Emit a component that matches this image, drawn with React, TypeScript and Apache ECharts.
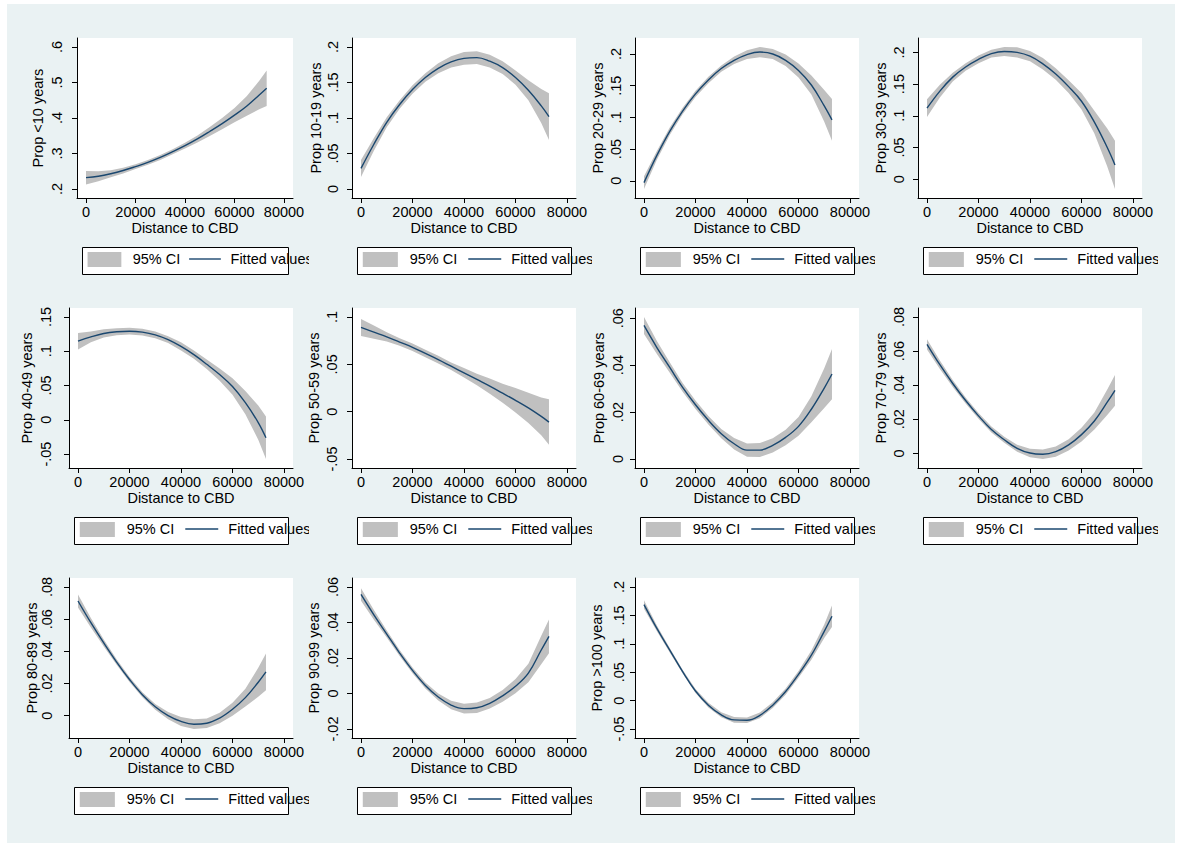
import React, { useEffect, useRef } from 'react';
import * as echarts from 'echarts';

// Distance to CBD at which the curves were read
const X = [0, 5000, 10000, 15000, 20000, 25000, 30000, 35000, 40000, 45000, 50000, 55000, 60000, 65000, 70000, 73000];
const xTicks = [0, 20000, 40000, 60000, 80000];

const titles = [
  'Prop <10 years', 'Prop 10-19 years', 'Prop 20-29 years', 'Prop 30-39 years',
  'Prop 40-49 years', 'Prop 50-59 years', 'Prop 60-69 years', 'Prop 70-79 years',
  'Prop 80-89 years', 'Prop 90-99 years', 'Prop >100 years',
];

// fitted values and 95% CI half-widths
const fit1 = [0.232, 0.236, 0.243, 0.252, 0.263, 0.275, 0.289, 0.305, 0.322, 0.341, 0.362, 0.384, 0.408, 0.434, 0.465, 0.484];
const ci1 = [0.019, 0.014, 0.01, 0.008, 0.007, 0.007, 0.007, 0.007, 0.008, 0.01, 0.013, 0.016, 0.02, 0.028, 0.04, 0.05];
const ticks1 = [0.2, 0.3, 0.4, 0.5, 0.6];

const fit2 = [0.029, 0.063, 0.094, 0.119, 0.14, 0.157, 0.17, 0.179, 0.184, 0.185, 0.18, 0.171, 0.157, 0.139, 0.117, 0.102];
const ci2 = [0.012, 0.009, 0.007, 0.006, 0.006, 0.006, 0.007, 0.008, 0.009, 0.009, 0.009, 0.009, 0.01, 0.014, 0.024, 0.033];
const ticks2 = [0, 0.05, 0.1, 0.15, 0.2];

const fit3 = [-0.003, 0.04, 0.078, 0.11, 0.137, 0.159, 0.177, 0.19, 0.199, 0.203, 0.2, 0.19, 0.174, 0.151, 0.118, 0.096];
const ci3 = [0.01, 0.007, 0.006, 0.005, 0.005, 0.005, 0.005, 0.006, 0.007, 0.008, 0.008, 0.009, 0.011, 0.015, 0.025, 0.033];
const ticks3 = [0, 0.05, 0.1, 0.15, 0.2];

const fit4 = [0.112, 0.139, 0.161, 0.177, 0.189, 0.198, 0.2015, 0.2, 0.194, 0.182, 0.166, 0.146, 0.123, 0.09, 0.05, 0.0226];
const ci4 = [0.014, 0.01, 0.007, 0.006, 0.006, 0.006, 0.007, 0.008, 0.008, 0.009, 0.009, 0.01, 0.013, 0.018, 0.03, 0.038];
const ticks4 = [0, 0.05, 0.1, 0.15, 0.2];

const fit5 = [0.1147, 0.121, 0.126, 0.1285, 0.1293, 0.128, 0.124, 0.117, 0.107, 0.095, 0.081, 0.066, 0.0486, 0.025, -0.004, -0.0262];
const ci5 = [0.012, 0.008, 0.006, 0.005, 0.005, 0.005, 0.005, 0.005, 0.006, 0.006, 0.007, 0.009, 0.012, 0.017, 0.025, 0.031];
const ticks5 = [-0.05, 0, 0.05, 0.1, 0.15];

const fit6 = [0.089, 0.084, 0.079, 0.0735, 0.068, 0.0615, 0.055, 0.048, 0.041, 0.034, 0.027, 0.0195, 0.012, 0.004, -0.005, -0.011];
const ci6 = [0.009, 0.007, 0.005, 0.004, 0.004, 0.004, 0.004, 0.004, 0.005, 0.006, 0.008, 0.01, 0.013, 0.016, 0.02, 0.024];
const ticks6 = [-0.05, 0, 0.05, 0.1];

const fit7 = [0.0569, 0.0475, 0.039, 0.0305, 0.0231, 0.0165, 0.0108, 0.0065, 0.0038, 0.0038, 0.0058, 0.0092, 0.0139, 0.0212, 0.0302, 0.0362];
const ci7 = [0.0036, 0.0028, 0.0022, 0.0019, 0.0018, 0.0018, 0.002, 0.0024, 0.0028, 0.003, 0.003, 0.0033, 0.004, 0.0055, 0.0085, 0.0107];
const ticks7 = [0, 0.02, 0.04, 0.06];

const fit8 = [0.064, 0.052, 0.041, 0.031, 0.022, 0.014, 0.008, 0.003, 0.0002, -0.0005, 0.001, 0.005, 0.011, 0.019, 0.03, 0.037];
const ci8 = [0.003, 0.0025, 0.002, 0.0018, 0.0017, 0.0017, 0.0018, 0.002, 0.0025, 0.0028, 0.003, 0.0033, 0.004, 0.005, 0.0075, 0.009];
const ticks8 = [0, 0.02, 0.04, 0.06, 0.08];

const fit9 = [0.0713, 0.0578, 0.0452, 0.0333, 0.0225, 0.013, 0.0055, 0.0, -0.0036, -0.0053, -0.0047, -0.0015, 0.004, 0.0112, 0.0208, 0.0272];
const ci9 = [0.004, 0.003, 0.0022, 0.0017, 0.0015, 0.0016, 0.0018, 0.0022, 0.0028, 0.003, 0.003, 0.0033, 0.004, 0.0055, 0.009, 0.0114];
const ticks9 = [0, 0.02, 0.04, 0.06, 0.08];

const fit10 = [0.0558, 0.0443, 0.0335, 0.0228, 0.013, 0.0045, -0.002, -0.0065, -0.0085, -0.008, -0.0055, -0.0013, 0.0041, 0.0115, 0.0245, 0.0322];
const ci10 = [0.0035, 0.0027, 0.002, 0.0017, 0.0016, 0.0017, 0.002, 0.0024, 0.0027, 0.003, 0.003, 0.0033, 0.004, 0.0052, 0.008, 0.0095];
const ticks10 = [-0.02, 0, 0.02, 0.04, 0.06];

const fit11 = [0.169, 0.127, 0.0888, 0.051, 0.0169, -0.008, -0.025, -0.034, -0.0346, -0.026, -0.008, 0.016, 0.0462, 0.08, 0.122, 0.1486];
const ci11 = [0.0075, 0.005, 0.004, 0.0035, 0.0035, 0.004, 0.0045, 0.005, 0.005, 0.005, 0.005, 0.0055, 0.006, 0.008, 0.012, 0.019];
const ticks11 = [-0.05, 0, 0.05, 0.1, 0.15, 0.2];

// layout per panel: y label distance and y title distance from the axis (px)
const labelDist = [21, 20, 20, 20, 24, 21, 18, 20, 23, 20, 17];
const titleDist = [39.5, 36.5, 37.5, 37.5, 43, 38.5, 36.5, 37.5, 37.5, 38.5, 38.5];

const panels = [
  { fit: fit1, ci: ci1, ticks: ticks1 },
  { fit: fit2, ci: ci2, ticks: ticks2 },
  { fit: fit3, ci: ci3, ticks: ticks3 },
  { fit: fit4, ci: ci4, ticks: ticks4 },
  { fit: fit5, ci: ci5, ticks: ticks5 },
  { fit: fit6, ci: ci6, ticks: ticks6 },
  { fit: fit7, ci: ci7, ticks: ticks7 },
  { fit: fit8, ci: ci8, ticks: ticks8 },
  { fit: fit9, ci: ci9, ticks: ticks9 },
  { fit: fit10, ci: ci10, ticks: ticks10 },
  { fit: fit11, ci: ci11, ticks: ticks11 },
].map((p, i) => ({
  ...p,
  title: titles[i],
  lo: p.fit.map((v, j) => v - p.ci[j]),
  hi: p.fit.map((v, j) => v + p.ci[j]),
}));

const FONT = "'Liberation Sans', Arial, Helvetica, sans-serif";
const BG = '#EAF2F3';
const CI_COLOR = '#C0C0C0';
const LINE_COLOR = '#1A476F';

const PITCH_X = 283;
const PITCH_Y = 270;
const CELL_W = 293;
const CELL_H = 270;
const EXTRA_L = 10;

function fmt(v: number): string {
  const s = String(parseFloat(v.toFixed(4)));
  return s.replace(/^(-?)0\./, '$1.');
}

function buildOption(p: any, idx: number) {
  const first = idx === 0;
  const gl = (first ? 51 : 43) + EXTRA_L;
  const gw = first ? 216 : 224;
  const gt = 19;
  const gh = 160;
  const pad = 9;
  const xmin0 = 0, xmax0 = 80000;
  const xp = (pad / (gw - 2 * pad)) * (xmax0 - xmin0);
  const dmin = Math.min(...p.lo, p.ticks[0]);
  const dmax = Math.max(...p.hi, p.ticks[p.ticks.length - 1]);
  const yp = (pad / (gh - 2 * pad)) * (dmax - dmin);

  const boxW = gw - 10;
  const boxX = gl + 5;
  const boxY = gt + gh + 49;
  const boxH = 27;
  const midY = boxY + 12;

  const fitted = X.map((x, i) => [x, p.fit[i]]);
  const bandData = X.map((x, i) => [x, p.lo[i], p.hi[i]]);

  const txt = { fontFamily: FONT, fontSize: 14.5, color: '#000' };

  return {
    animation: false,
    grid: {
      left: gl, top: gt, width: gw, height: gh,
      show: true, backgroundColor: '#fff', borderWidth: 0,
      outerBoundsMode: 'none',
      containLabel: false,
    },
    xAxis: {
      type: 'value',
      min: xmin0 - xp,
      max: xmax0 + xp,
      axisLine: { show: true, onZero: false, lineStyle: { color: '#000', width: 1 } },
      axisTick: { show: true, length: 5, lineStyle: { color: '#000' }, customValues: xTicks },
      axisLabel: { ...txt, margin: 6, customValues: xTicks, formatter: (v: number) => String(v) },
      splitLine: { show: false },
      name: 'Distance to CBD',
      nameLocation: 'middle',
      nameGap: 22,
      nameMoveOverlap: false,
      nameTextStyle: txt,
    },
    yAxis: {
      type: 'value',
      min: dmin - yp,
      max: dmax + yp,
      axisLine: { show: true, onZero: false, lineStyle: { color: '#000', width: 1 } },
      axisTick: { show: true, length: 5, lineStyle: { color: '#000' }, customValues: p.ticks },
      axisLabel: {
        ...txt, rotate: 90, margin: labelDist[idx] - 8,
        customValues: p.ticks, formatter: (v: number) => fmt(v),
      },
      splitLine: { show: false },
      name: p.title,
      nameLocation: 'middle',
      nameRotate: 90,
      nameGap: titleDist[idx] - 8,
      nameMoveOverlap: false,
      nameTextStyle: txt,
    },
    series: [
      {
        type: 'custom',
        data: bandData,
        encode: { x: 0, y: [1, 2] },
        silent: true,
        z: 1,
        renderItem: (params: any, api: any) => {
          if (params.dataIndex !== 0) return null;
          const pts: number[][] = [];
          for (let j = 0; j < X.length; j++) pts.push(api.coord([X[j], p.hi[j]]));
          for (let j = X.length - 1; j >= 0; j--) pts.push(api.coord([X[j], p.lo[j]]));
          return { type: 'polygon', shape: { points: pts }, style: { fill: CI_COLOR } };
        },
      },
      {
        type: 'line', data: fitted, smooth: 0.4, symbol: 'none', z: 3,
        lineStyle: { color: LINE_COLOR, width: 1.4 },
      },
    ],
    graphic: [
      {
        type: 'rect', shape: { x: boxX + 0.5, y: boxY + 0.5, width: boxW, height: boxH },
        style: { fill: '#fff', stroke: '#000', lineWidth: 1 },
      },
      {
        type: 'rect', shape: { x: boxX + 0.027 * boxW, y: boxY + 5, width: 0.164 * boxW, height: 15 },
        style: { fill: CI_COLOR },
      },
      {
        type: 'text', x: boxX + 0.246 * boxW, y: midY,
        style: { text: '95% CI', font: `14.5px ${FONT}`, fill: '#000', verticalAlign: 'middle', align: 'left' },
      },
      {
        type: 'line', shape: { x1: boxX + 0.52 * boxW, y1: midY, x2: boxX + 0.674 * boxW, y2: midY },
        style: { stroke: LINE_COLOR, lineWidth: 1.4 },
      },
      {
        type: 'text', x: boxX + 0.721 * boxW, y: midY,
        style: { text: 'Fitted values', font: `14.5px ${FONT}`, fill: '#000', verticalAlign: 'middle', align: 'left' },
      },
    ],
  };
}

function Panel({ p, idx }: { p: any; idx: number }) {
  const ref = useRef<HTMLDivElement>(null);
  useEffect(() => {
    if (!ref.current) return;
    const chart = echarts.init(ref.current, undefined, { renderer: 'svg' });
    chart.setOption(buildOption(p, idx) as any);
    return () => chart.dispose();
  }, [p, idx]);
  const r = Math.floor(idx / 4);
  const c = idx % 4;
  return (
    <div
      ref={ref}
      style={{
        position: 'absolute',
        left: 26 - EXTRA_L + PITCH_X * c,
        top: 19 + PITCH_Y * r,
        width: CELL_W,
        height: CELL_H,
        overflow: 'hidden',
      }}
    />
  );
}

export default function App() {
  return (
    <div style={{ position: 'absolute', left: 0, top: 0, width: 1182, height: 848, background: '#fff' }}>
      <div style={{ position: 'absolute', left: 7, top: 4, width: 1168, height: 839, background: BG }} />
      {panels.map((p, i) => (
        <Panel key={i} p={p} idx={i} />
      ))}
    </div>
  );
}
